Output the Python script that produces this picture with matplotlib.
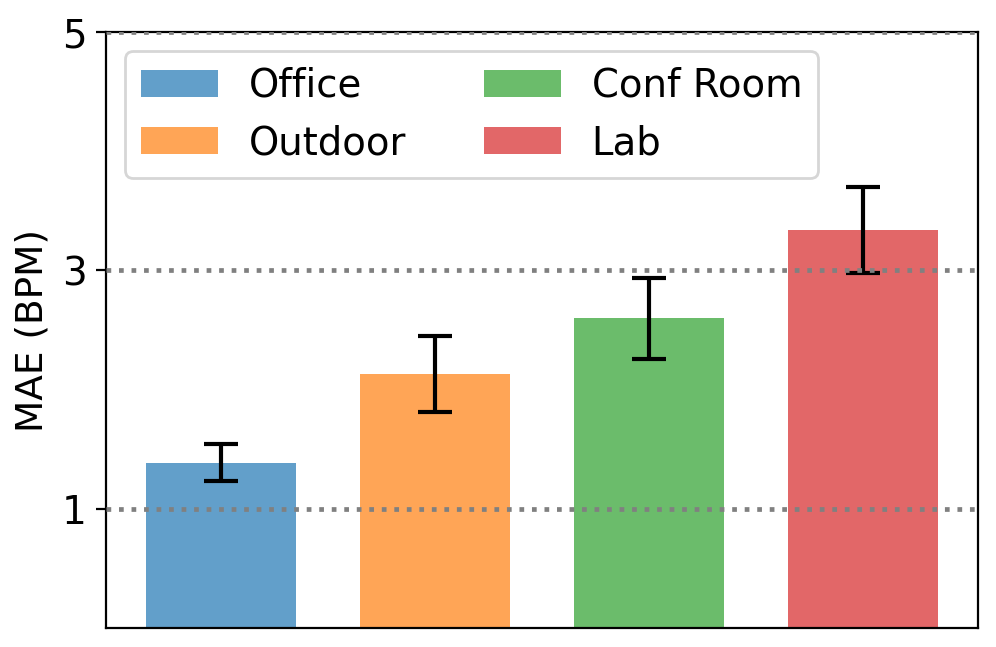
import numpy as np
import matplotlib.pyplot as plt

# MAE per environment with error bars
envs = ['Office', 'Outdoor', 'Conf Room', 'Lab']
mae = [1.385, 2.13, 2.60, 3.34]
err = [0.155, 0.32, 0.34, 0.36]
colors = ['tab:blue', 'tab:orange', 'tab:green', 'tab:red']
yticks = [1, 3, 5]

fig = plt.figure(figsize=(4.98, 3.235), dpi=200)
ax = fig.add_axes([0.1064, 0.0294, 0.8755, 0.9211])

x = np.arange(len(envs))
for i in range(len(envs)):
    ax.bar(x[i], mae[i], width=0.7, color=colors[i], alpha=0.7, label=envs[i],
           yerr=err[i], capsize=6,
           error_kw=dict(elinewidth=1.5, capthick=1.5, ecolor='black'))

for t in yticks:
    ax.axhline(t, color='gray', linestyle=':', linewidth=1.7, zorder=3)

ax.set_ylim(0, 5)
ax.set_yticks(yticks)
ax.set_xticks([])
ax.tick_params(axis='y', labelsize=14)
ax.set_ylabel('MAE (BPM)', fontsize=13.5)
ax.legend(ncol=2, loc='upper left', fontsize=13.9)

fig.savefig('out.png', dpi=200)
